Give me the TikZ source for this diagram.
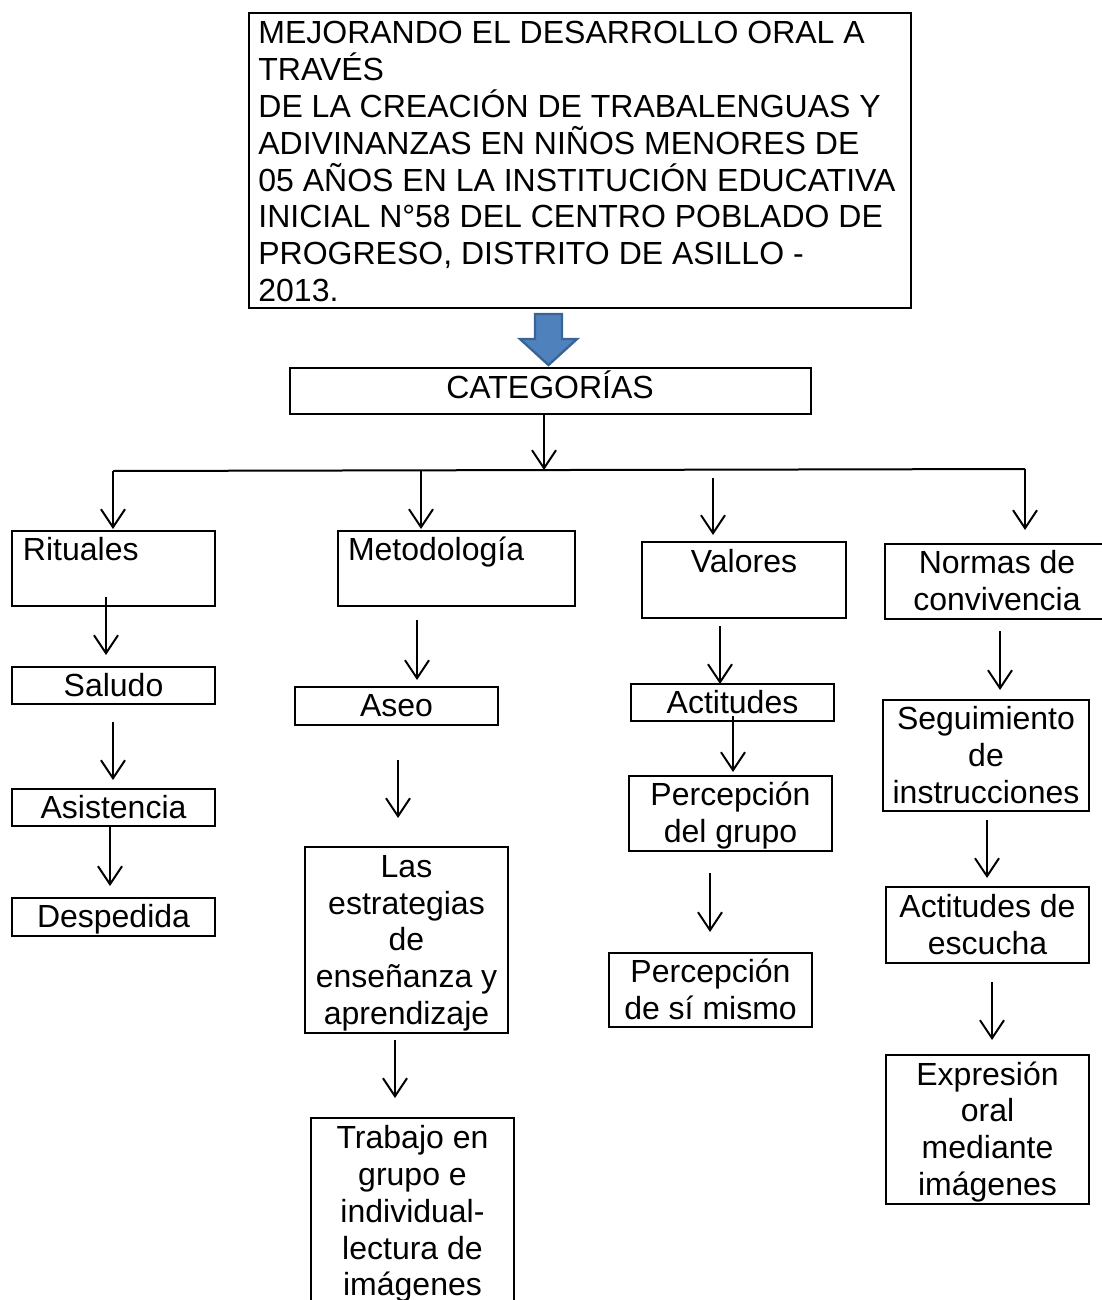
\documentclass[tikz,border=0pt]{standalone}
\usepackage{fontspec}
\setmainfont{Liberation Sans}
\usetikzlibrary{arrows.meta}
\newcommand\ws{\rule[-0.22em]{0pt}{1.12em}}
\definecolor{arrowfill}{HTML}{4F81BD}
\definecolor{arrowline}{HTML}{3A6496}
\begin{document}
\begin{tikzpicture}[x=0.5pt,y=-0.5pt,
  box/.style={draw,line width=1pt,inner sep=0pt,align=center,font=\fontsize{16}{18.4}\selectfont},
  lbox/.style={box,align=left},
  txt/.style={inner sep=0pt,align=left,font=\fontsize{16}{18.4}\selectfont},
  arr/.style={-{Straight Barb[length=9pt,width=12pt]},line width=1pt},
  conn/.style={line width=1pt}]
\useasboundingbox (0,0) rectangle (1102,1300);

% title
\node[box,minimum width=331pt,minimum height=147.5pt] (title) at (580,160.5) {};
\node[txt,anchor=north west] (titletext) at (258,14.7) {\ws MEJORANDO EL DESARROLLO ORAL A\\TRAVÉS\\DE LA CREACIÓN DE TRABALENGUAS Y\\ADIVINANZAS EN NIÑOS MENORES DE\\05 AÑOS EN LA INSTITUCIÓN EDUCATIVA\\INICIAL N°58 DEL CENTRO POBLADO DE\\PROGRESO, DISTRITO DE ASILLO -\\2013.};

% blue block arrow
\draw[fill=arrowfill,draw=arrowline,line width=1.2pt,line join=miter]
  (535,314) -- (562,314) -- (562,339) -- (577,339) -- (548.5,365) -- (520,339) -- (535,339) -- cycle;

% categories
\node[box,minimum width=260.5pt,minimum height=23pt] (cat) at (550.5,391) {};
\node[txt,anchor=base] (cattext) at (550,398.5) {CATEGORÍAS};

% level 1
\node[lbox,minimum width=101.5pt,minimum height=37.5pt,text width=90.5pt] (rit) at (113.5,568.5) {\ws Rituales\\\ws};
\node[lbox,minimum width=118.5pt,minimum height=37.5pt,text width=108.5pt] (met) at (456.5,568.5) {\ws Metodología\\\ws};
\node[box,minimum width=102pt,minimum height=38pt] (val) at (744,580) {\ws Valores\\\ws};
\node[box,minimum width=112pt,minimum height=37.5pt] (nor) at (997,581.5) {\ws Normas de\\convivencia\ws};

% Rituales column
\node[box,minimum width=101.5pt,minimum height=18.5pt] (sal) at (113.5,685.5) {\ws Saludo};
\node[box,minimum width=101.5pt,minimum height=18.5pt] (asi) at (113.5,807.5) {\ws Asistencia};
\node[box,minimum width=101.5pt,minimum height=19pt] (des) at (113.5,917) {\ws Despedida};

% Metodologia column
\node[box,minimum width=101.5pt,minimum height=19pt] (ase) at (396.5,706) {\ws Aseo};
\node[box,minimum width=101.5pt,minimum height=93pt] (est) at (406.5,940) {\ws Las\\estrategias\\de\\enseñanza y\\aprendizaje\ws};
\node[box,minimum width=101.5pt,minimum height=93.5pt] (tra) at (412.5,1211.5) {\ws Trabajo en\\grupo e\\individual-\\lectura de\\imágenes\ws};

% Valores column
\node[box,minimum width=101.5pt,minimum height=18.5pt] (act) at (732.5,702.5) {\ws Actitudes};
\node[box,minimum width=101.5pt,minimum height=37.5pt] (pgr) at (730.5,813.5) {\ws Percepción\\del grupo\ws};
\node[box,minimum width=101.5pt,minimum height=37pt] (psm) at (710.5,990) {\ws Percepción\\de sí mismo\ws};

% Normas column
\node[box,minimum width=103pt,minimum height=55.5pt] (seg) at (986,755.5) {\ws Seguimiento\\de\\instrucciones\ws};
\node[box,minimum width=101.5pt,minimum height=38pt] (esc) at (987.5,925) {\ws Actitudes de\\escucha\ws};
\node[box,minimum width=101.5pt,minimum height=74.5pt] (exp) at (987.5,1129.5) {\ws Expresión\\oral\\mediante\\imágenes\ws};

% horizontal distribution line
\coordinate (hl) at (113,471);
\coordinate (hr) at (1025,469);
\draw[conn] (hl) -- (hr);

% arrow endpoints
\coordinate (a0s) at (544,414);  \coordinate (a0e) at (544,470);
\coordinate (a1s) at (113,471);  \coordinate (a1e) at (113,529);
\coordinate (a2s) at (421,470);  \coordinate (a2e) at (421,529);
\coordinate (a3s) at (713,478);  \coordinate (a3e) at (713,535);
\coordinate (a4s) at (1025,469); \coordinate (a4e) at (1025,530);
\coordinate (r1s) at (106,597);  \coordinate (r1e) at (106,655);
\coordinate (r2s) at (113,722);  \coordinate (r2e) at (113,780);
\coordinate (r3s) at (110,826);  \coordinate (r3e) at (110,886);
\coordinate (m1s) at (417,620);  \coordinate (m1e) at (417,680);
\coordinate (m2s) at (398,760);  \coordinate (m2e) at (398,818);
\coordinate (m3s) at (395,1040); \coordinate (m3e) at (395,1098);
\coordinate (v1s) at (720,626);  \coordinate (v1e) at (720,684);
\coordinate (v2s) at (733,716);  \coordinate (v2e) at (733,772);
\coordinate (v3s) at (710,873);  \coordinate (v3e) at (710,932);
\coordinate (n1s) at (1000,631); \coordinate (n1e) at (1000,690);
\coordinate (n2s) at (987,820);  \coordinate (n2e) at (987,878);
\coordinate (n3s) at (992,982);  \coordinate (n3e) at (992,1040);

\foreach \a in {a0,a1,a2,a3,a4,r1,r2,r3,m1,m2,m3,v1,v2,v3,n1,n2,n3}
  \draw[arr] (\a s) -- (\a e);
\end{tikzpicture}
\end{document}
